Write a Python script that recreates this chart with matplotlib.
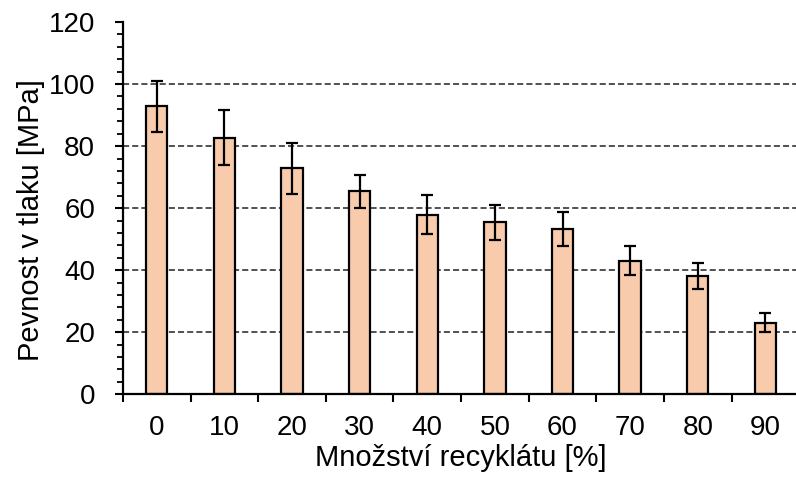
import matplotlib.pyplot as plt
from matplotlib.ticker import MultipleLocator, FixedLocator
import numpy as np

plt.rcParams['font.family'] = ['Liberation Sans', 'DejaVu Sans']

# data
recyklat = ['0', '10', '20', '30', '40', '50', '60', '70', '80', '90']
pevnost = [92.8, 82.7, 72.9, 65.4, 57.9, 55.4, 53.4, 43.1, 38.1, 23.1]
odchylka = [8.2, 8.9, 8.2, 5.2, 6.4, 5.7, 5.5, 4.8, 4.1, 3.2]

fig = plt.figure(figsize=(7.96, 4.79), dpi=100)
ax = fig.add_axes([0.1545, 0.177, 0.8495, 0.777])

x = np.arange(len(recyklat))
ax.bar(x, pevnost, width=0.315, color='#F8CBAD', edgecolor='black',
       linewidth=1.6, zorder=2)
ax.errorbar(x, pevnost, yerr=odchylka, fmt='none', ecolor='black',
            elinewidth=1.6, capsize=4.5, capthick=1.6, zorder=3)

ax.set_xlim(-0.5, len(recyklat) - 0.5)
ax.set_ylim(0, 120)
ax.yaxis.set_major_locator(MultipleLocator(20))
ax.yaxis.set_minor_locator(MultipleLocator(4))
ax.yaxis.grid(True, which='major', linestyle=(0, (4, 2)), color='#222222',
              linewidth=1.1, zorder=0)
ax.set_axisbelow(True)

# x ticks sit between categories, labels at the centres
ax.set_xticks(x)
ax.set_xticklabels(recyklat)
ax.xaxis.set_minor_locator(FixedLocator(np.arange(-0.5, len(recyklat), 1.0)))
ax.tick_params(axis='x', which='major', length=0, pad=15, labelsize=20)
ax.tick_params(axis='x', which='minor', length=6, width=1.5)
ax.tick_params(axis='y', which='major', length=6, width=1.5, labelsize=20, pad=14)
ax.tick_params(axis='y', which='minor', length=4.5, width=1.3)

for s in ['top', 'right']:
    ax.spines[s].set_visible(False)
for s in ['left', 'bottom']:
    ax.spines[s].set_linewidth(1.6)

ax.set_xlabel('Množství recyklátu [%]', fontsize=21, labelpad=2)
ax.set_ylabel('Pevnost v tlaku [MPa]', fontsize=21)
ax.yaxis.set_label_coords(-0.116, 0.468)

# no gridline at the top (120)
fig.canvas.draw()
for tick in ax.yaxis.get_major_ticks():
    if abs(tick.get_loc() - 120) < 1e-6:
        tick.gridline.set_visible(False)

fig.savefig('out.png', dpi=100)
